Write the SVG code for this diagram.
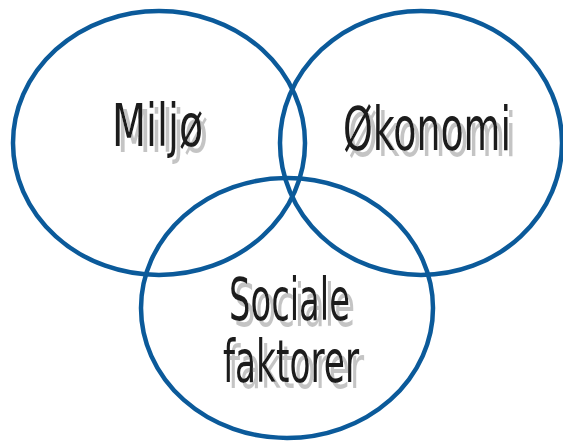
<svg xmlns="http://www.w3.org/2000/svg" width="563" height="441" viewBox="0 0 563 441">
<defs>
<filter id="shadow" x="-10%" y="-20%" width="130%" height="150%">
<feFlood flood-color="#c4c4c4" result="g"/>
<feComposite in="g" in2="SourceAlpha" operator="in" result="sh"/>
<feOffset in="sh" dx="5" dy="6" result="off"/>
<feMerge><feMergeNode in="off"/><feMergeNode in="SourceGraphic"/></feMerge>
</filter>
<filter id="shadow2" x="-10%" y="-20%" width="130%" height="150%">
<feFlood flood-color="#c4c4c4" result="g"/>
<feComposite in="g" in2="SourceAlpha" operator="in" result="sh"/>
<feOffset in="sh" dx="5" dy="4" result="off"/>
<feMerge><feMergeNode in="off"/><feMergeNode in="SourceGraphic"/></feMerge>
</filter>
</defs>
<style>
.c{fill:none;stroke:#0b5a9a;stroke-width:4.5}
.t{font-family:"Liberation Sans Narrow","DejaVu Sans Condensed","Liberation Sans",Arial,sans-serif;font-size:58px;fill:#1a1a1a;text-anchor:middle;filter:url(#shadow)}
.tt{font-family:"Liberation Sans Narrow","DejaVu Sans Condensed","Liberation Sans",Arial,sans-serif;font-size:40px;fill:#1a1a1a;text-anchor:middle;filter:url(#shadow2)}
</style>
<rect width="563" height="441" fill="#ffffff"/>
<g id="miljo">
<ellipse class="c" cx="159" cy="143" rx="146" ry="132"/>
<text class="t" x="157.5" y="146" textLength="91" lengthAdjust="spacingAndGlyphs">Miljø</text>
</g>
<g id="okonomi">
<ellipse class="c" cx="421" cy="143" rx="141" ry="132"/>
<text class="tt" transform="translate(427,150) scale(1,1.5)" x="0" y="0" textLength="168" lengthAdjust="spacingAndGlyphs">Økonomi</text>
</g>
<g id="sociale">
<ellipse class="c" cx="287" cy="308" rx="146" ry="130"/>
<text class="t" x="289.5" y="320" textLength="121" lengthAdjust="spacingAndGlyphs">Sociale</text>
<text class="t" x="291" y="382" textLength="136" lengthAdjust="spacingAndGlyphs">faktorer</text>
</g>
<g id="connectors"/>
</svg>
